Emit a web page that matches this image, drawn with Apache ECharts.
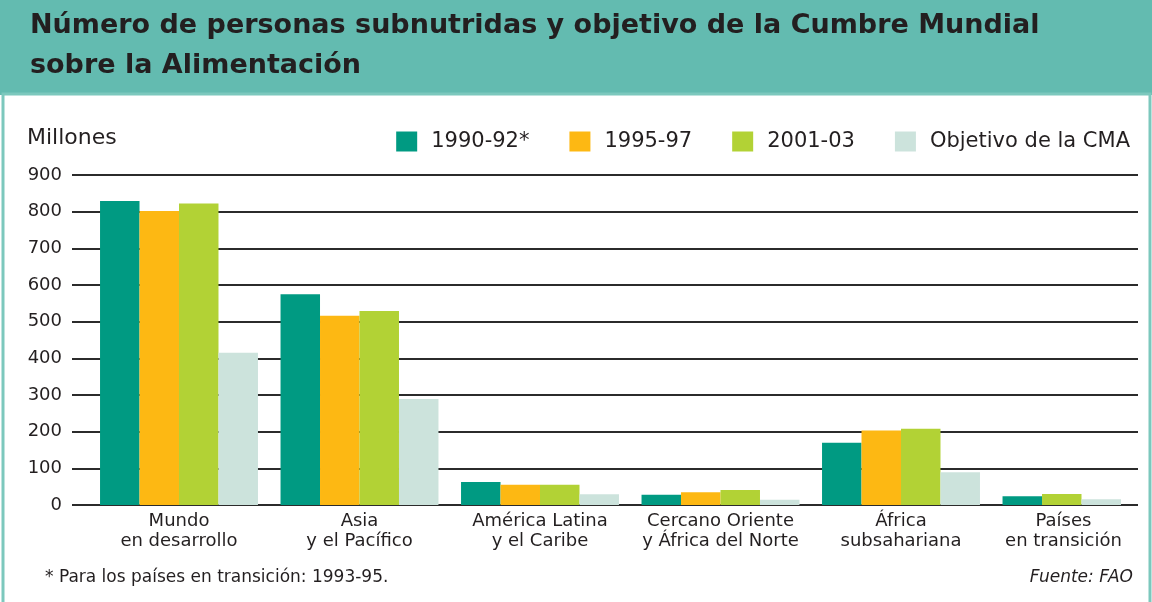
<!DOCTYPE html>
<html>
<head>
<meta charset="utf-8">
<title>Personas subnutridas</title>
<script src="https://cdn.jsdelivr.net/npm/echarts@6/dist/echarts.min.js"></script>
<style>
html, body { margin: 0; padding: 0; background: #fff; }
#chart { width: 1152px; height: 602px; }
</style>
</head>
<body>
<div id="chart"></div>
<script>
// datos (millones de personas)
var categories = ['Mundo\nen desarrollo', 'Asia\ny el Pacífico', 'América Latina\ny el Caribe',
  'Cercano Oriente\ny África del Norte', 'África\nsubsahariana', 'Países\nen transición'];
var seriesNames = ['1990-92*', '1995-97', '2001-03', 'Objetivo de la CMA'];
var v1990 = [829, 575, 63, 28, 170, 24];
var v1995 = [802, 516, 55, 35, 203, null]; // no hay dato para países en transición
var v2001 = [822, 529, 55, 41, 208, 30];
var objetivo = [415, 289, 29, 14, 89, 16];
var yTicks = [0, 100, 200, 300, 400, 500, 600, 700, 800, 900];

var allValues = [v1990, v1995, v2001, objetivo];
var colors = ['#009a82', '#fdb813', '#b2d235', '#cce3dc'];
var FONT = "'DejaVu Sans', 'Liberation Sans', sans-serif";
var TXT = '#231f20';

var GROUP_RATIO = 0.875; // ancho del grupo respecto a la distancia entre categorías
var BAR_RATIO = GROUP_RATIO / 4;

// barras agrupadas: se saltan los huecos sin dato (países en transición)
function groupBar(idx) {
  return function (params, api) {
    var cat = api.value(0);
    var val = api.value(1);
    if (isNaN(val)) return;
    var slot = 0;
    for (var s = 0; s < idx; s++) {
      if (allValues[s][cat] != null) slot++;
    }
    var base = api.coord([cat, 0]);
    var top = api.coord([cat, val]);
    var band = api.size([1, 0])[0];
    var x0 = base[0] - band * GROUP_RATIO / 2 + slot * band * BAR_RATIO;
    return {
      type: 'rect',
      shape: { x: x0, y: top[1], width: band * BAR_RATIO, height: base[1] - top[1] },
      style: api.style()
    };
  };
}

var series = seriesNames.map(function (name, i) {
  return {
    type: 'custom',
    name: name,
    xAxisIndex: 1,
    yAxisIndex: 1,
    itemStyle: { color: colors[i] },
    renderItem: groupBar(i),
    encode: { x: 0, y: 1 },
    data: allValues[i].map(function (v, c) { return [c, v]; })
  };
});

var catData = categories.map(function (c, i) {
  // el último grupo tiene solo tres barras: centrar la etiqueta sobre ellas
  if (i === categories.length - 1) return { value: c, textStyle: { padding: [0, 36, 0, 0] } };
  return c;
});

var option = {
  animation: false,
  textStyle: { fontFamily: FONT },
  graphic: [
    { type: 'rect', shape: { x: 0, y: 0, width: 1152, height: 95 }, style: { fill: '#63bbb0' }, z: -10 },
    { type: 'rect', shape: { x: 3, y: 94, width: 1147, height: 530 },
      style: { fill: null, stroke: '#7cc8bd', lineWidth: 3 }, z: -9 },
    { type: 'text', left: 30, top: 6,
      style: { text: 'Número de personas subnutridas y objetivo de la Cumbre Mundial\nsobre la Alimentación',
        font: 'bold 27px ' + FONT, fill: TXT, lineHeight: 40 } },
    { type: 'text', left: 27, top: 127,
      style: { text: 'Millones', font: '22px ' + FONT, fill: TXT } },
    { type: 'text', left: 45, top: 569,
      style: { text: '* Para los países en transición: 1993-95.', font: '17px ' + FONT, fill: TXT } },
    { type: 'text', right: 19, top: 569,
      style: { text: 'Fuente: FAO', font: 'italic 17px ' + FONT, fill: TXT } }
  ],
  legend: {
    right: 17,
    top: 126,
    icon: 'rect',
    itemWidth: 21,
    itemHeight: 20,
    itemGap: 40,
    textStyle: { fontSize: 21, color: TXT, fontFamily: FONT, padding: [0, 0, 0, 9] },
    data: seriesNames
  },
  grid: [
    { left: 72, width: 1066, top: 175, height: 330, outerBoundsMode: 'none' },
    // posiciones de los grupos: centros separados 180.5 px, primero en x=179
    { left: 179, width: 902.5, top: 175, height: 330, outerBoundsMode: 'none' }
  ],
  xAxis: [
    { gridIndex: 0, type: 'value', min: 0, max: 1, show: false },
    {
      gridIndex: 1, type: 'category', data: catData, boundaryGap: false,
      axisLine: { show: false }, axisTick: { show: false }, splitLine: { show: false },
      axisLabel: { fontSize: 18, color: TXT, lineHeight: 20, margin: 6, interval: 0, fontFamily: FONT }
    }
  ],
  yAxis: [
    {
      gridIndex: 0, type: 'value', min: yTicks[0], max: yTicks[yTicks.length - 1], interval: 100,
      axisLine: { show: false }, axisTick: { show: false },
      axisLabel: { fontSize: 18, color: TXT, margin: 10, fontFamily: FONT },
      splitLine: { lineStyle: { color: '#2b2b2b', width: 2 } }
    },
    { gridIndex: 1, type: 'value', min: yTicks[0], max: yTicks[yTicks.length - 1], show: false }
  ],
  series: series
};

var myChart = echarts.init(document.getElementById('chart'));
myChart.setOption(option);
</script>
</body>
</html>
